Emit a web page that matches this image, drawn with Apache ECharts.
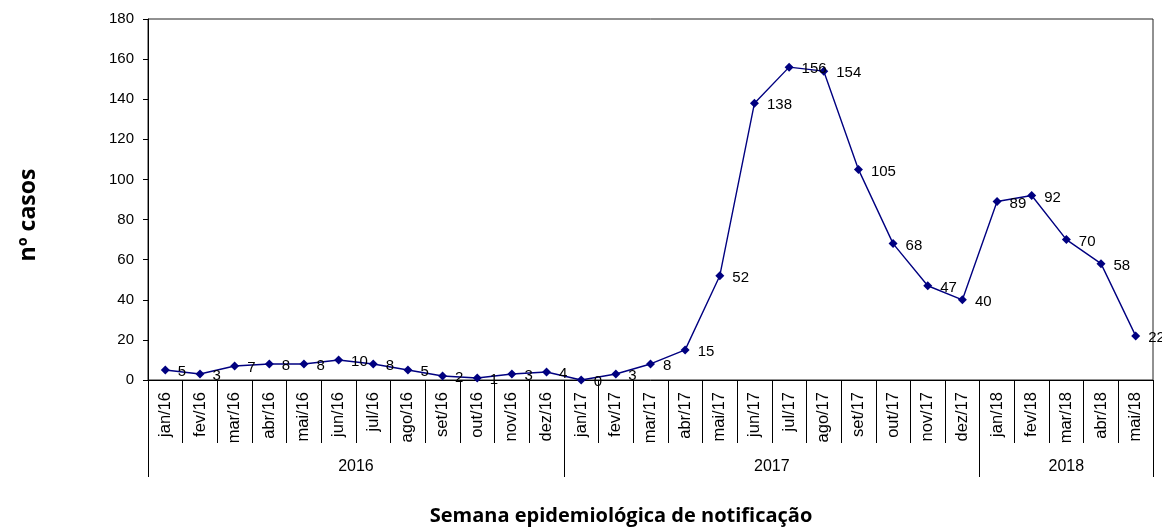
<!DOCTYPE html>
<html>
<head>
<meta charset="utf-8">
<script src="https://cdn.jsdelivr.net/npm/echarts@6/dist/echarts.min.js"></script>
<style>
html,body{margin:0;padding:0;background:#fff;}
#chart{width:1162px;height:528px;}
</style>
</head>
<body>
<div id="chart"></div>
<script>
var months = ['jan/16','fev/16','mar/16','abr/16','mai/16','jun/16','jul/16','ago/16','set/16','out/16','nov/16','dez/16',
  'jan/17','fev/17','mar/17','abr/17','mai/17','jun/17','jul/17','ago/17','set/17','out/17','nov/17','dez/17',
  'jan/18','fev/18','mar/18','abr/18','mai/18'];
var cases = [5,3,7,8,8,10,8,5,2,1,3,4, 0,3,8,15,52,138,156,154,105,68,47,40, 89,92,70,58,22];
var years = ['2016','2017','2018'];
var monthsPerYear = [12,12,5];
var yTicks = [0,20,40,60,80,100,120,140,160,180];
var yTitle = 'nº casos';
var xTitle = 'Semana epidemiológica de notificação';

var boundaries = [0], centers = [], acc = 0;
monthsPerYear.forEach(function(n){ centers.push(acc + n/2); acc += n; boundaries.push(acc); });

var font = 'Liberation Sans, Arial, sans-serif';
var chart = echarts.init(document.getElementById('chart'), null, {renderer:'canvas'});
chart.setOption({
  animation:false,
  backgroundColor:'#fff',
  grid:{left:148, top:19, width:1005, height:361, outerBoundsMode:'none', containLabel:false,
    show:true, borderColor:'#222', borderWidth:1, backgroundColor:'transparent'},
  graphic:[{
    type:'text', x:28, y:215, rotation:Math.PI/2,
    style:{text:yTitle, align:'center', verticalAlign:'middle', fill:'#000',
      font:'bold 23px "Open Sans"'}
  },{
    type:'text', x:621, y:516,
    style:{text:xTitle, align:'center', verticalAlign:'middle', fill:'#000',
      font:'bold 20px "Open Sans"'}
  }],
  xAxis:[{
    type:'category', data:months, boundaryGap:true,
    axisLine:{show:true, lineStyle:{color:'#000', width:1}},
    axisTick:{show:true, alignWithLabel:false, interval:0, length:63, lineStyle:{color:'#000'}},
    axisLabel:{interval:0, rotate:90, margin:12, color:'#000', fontFamily:font, fontSize:16.5},
    splitLine:{show:false}
  },{
    type:'value', min:0, max:acc, position:'bottom', offset:63,
    axisLine:{show:false},
    axisTick:{show:true, customValues:boundaries, length:34, lineStyle:{color:'#000'}},
    axisLabel:{customValues:centers, margin:16, color:'#000', fontFamily:font, fontSize:16,
      formatter:function(v){ var i = centers.indexOf(v); return i>=0 ? years[i] : ''; }},
    splitLine:{show:false}
  }],
  yAxis:{
    type:'value', min:yTicks[0], max:yTicks[yTicks.length-1], interval:20,
    axisLine:{show:true, lineStyle:{color:'#000', width:1}},
    axisTick:{show:true, length:5, lineStyle:{color:'#000'}},
    axisLabel:{margin:14, color:'#000', fontFamily:font, fontSize:15},
    splitLine:{show:false}
  },
  series:[{
    type:'line', data:cases, xAxisIndex:0,
    symbol:'diamond', symbolSize:9,
    lineStyle:{color:'#000080', width:1.4},
    itemStyle:{color:'#000080'},
    label:{show:true, position:'right', distance:8, offset:[0,2], color:'#000', fontFamily:font, fontSize:15}
  }]
});
</script>
</body>
</html>
